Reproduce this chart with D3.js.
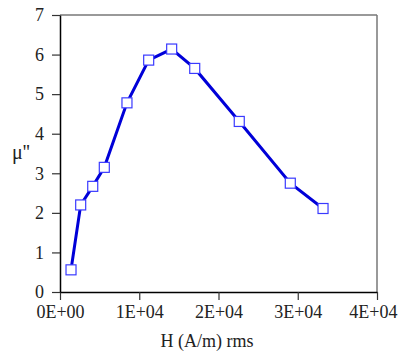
<!DOCTYPE html>
<html>
<head>
<meta charset="utf-8">
<script src="https://cdn.jsdelivr.net/npm/d3@7"></script>
<style>
  body { margin: 0; background: #fff; }
  svg text { font-family: "Liberation Serif", "DejaVu Serif", serif !important; fill: #222; }
</style>
</head>
<body>
<svg id="chart" width="398" height="353"></svg>
<script>
// values
const hField = [1390, 2610, 4130, 5590, 8450, 11190, 14090, 17000, 22620, 29060, 33190]
const muImag = [0.56, 2.20, 2.67, 3.15, 4.78, 5.86, 6.14, 5.65, 4.31, 2.75, 2.11]
const xTicks = [0, 10000, 20000, 30000, 40000]
const xTickLabels = ["0E+00", "1E+04", "2E+04", "3E+04", "4E+04"]
const yTicks = [0, 1, 2, 3, 4, 5, 6, 7]

const svg = d3.select("#chart")
const mLeft = 60, mRight = 377, mTop = 15, mBottom = 292
const serif = "'Liberation Serif', 'DejaVu Serif', serif"

const x = d3.scaleLinear().domain([0, 40000]).range([mLeft, mRight])
const y = d3.scaleLinear().domain([0, 7]).range([mBottom, mTop])

// frame: top and right in grey
svg.append("line").attr("x1", mLeft).attr("x2", mRight).attr("y1", mTop).attr("y2", mTop)
    .attr("stroke", "#777").attr("stroke-width", 1.5)
svg.append("line").attr("x1", mRight).attr("x2", mRight).attr("y1", mTop).attr("y2", mBottom)
    .attr("stroke", "#777").attr("stroke-width", 1.5)

const xAxis = svg.append("g")
    .attr("transform", `translate(0,${mBottom})`)
    .call(d3.axisBottom(x).tickValues(xTicks).tickFormat((d, i) => xTickLabels[i])
        .tickSizeInner(8).tickSizeOuter(0).tickPadding(5))
const yAxis = svg.append("g")
    .attr("transform", `translate(${mLeft},0)`)
    .call(d3.axisLeft(y).tickValues(yTicks).tickFormat(d3.format("d"))
        .tickSizeInner(8).tickSizeOuter(0).tickPadding(8))

;[xAxis, yAxis].forEach(ax => {
    ax.attr("font-family", serif)
    ax.select(".domain").attr("stroke", "#000").attr("stroke-width", 1.5)
    ax.selectAll(".tick line").attr("stroke", "#333").attr("stroke-width", 1.2)
    ax.selectAll(".tick text").attr("font-size", 18).style("font-family", serif).attr("fill", "#222")
})
// last label sits flush with the right edge, as in the original
xAxis.selectAll(".tick text").filter((d, i, n) => i === n.length - 1)
    .attr("text-anchor", "end").attr("x", 397 - x(40000))

const line = d3.line().x((d, i) => x(hField[i])).y(d => y(d))
svg.append("path")
    .datum(muImag)
    .attr("d", line)
    .attr("fill", "none")
    .attr("stroke", "#0000d8")
    .attr("stroke-width", 3)

const sz = 10
svg.selectAll(".pt")
    .data(muImag)
    .enter()
    .append("rect")
    .attr("class", "pt")
    .attr("x", (d, i) => x(hField[i]) - sz / 2)
    .attr("y", d => y(d) - sz / 2)
    .attr("width", sz)
    .attr("height", sz)
    .attr("fill", "#fff")
    .attr("stroke", "#3a3aff")
    .attr("stroke-width", 1.2)

svg.append("text")
    .attr("x", 207).attr("y", 347)
    .attr("text-anchor", "middle")
    .attr("font-size", 18)
    .style("font-family", serif)
    .text("H (A/m) rms")

svg.append("text")
    .attr("x", 21).attr("y", 159)
    .attr("text-anchor", "middle")
    .attr("font-size", 20)
    .style("font-family", serif)
    .text("μ''")
</script>
</body>
</html>
